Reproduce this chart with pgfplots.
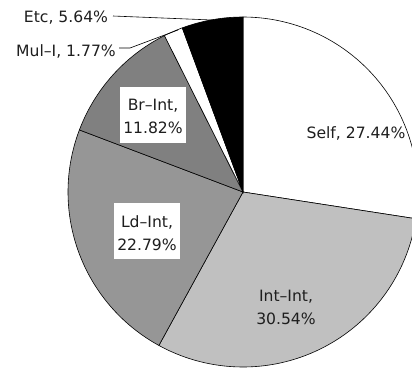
\documentclass[border=0pt]{standalone}
\usepackage{pgfplots}
\pgfplotsset{compat=1.18}
\usepackage{pgfplotstable}
\usepackage{fontspec}
\setmainfont{DejaVu Sans}
\definecolor{gIntInt}{RGB}{192,192,192}
\definecolor{gLd}{RGB}{150,150,150}
\definecolor{gBr}{RGB}{128,128,128}
\definecolor{txt}{RGB}{30,30,30}

\pgfplotstableread{
name value
Self 27.44
IntInt 30.54
LdInt 22.79
BrInt 11.82
MulI 1.77
Etc 5.64
}\piedata

\newcommand\lbl{\fontsize{15.6bp}{23bp}\selectfont}

\begin{document}
\begin{tikzpicture}
\pgfplotstablegetelem{0}{value}\of\piedata\pgfmathsetmacro\vA{\pgfplotsretval}
\pgfplotstablegetelem{1}{value}\of\piedata\pgfmathsetmacro\vB{\pgfplotsretval}
\pgfplotstablegetelem{2}{value}\of\piedata\pgfmathsetmacro\vC{\pgfplotsretval}
\pgfplotstablegetelem{3}{value}\of\piedata\pgfmathsetmacro\vD{\pgfplotsretval}
\pgfplotstablegetelem{4}{value}\of\piedata\pgfmathsetmacro\vE{\pgfplotsretval}
\pgfplotstablegetelem{5}{value}\of\piedata\pgfmathsetmacro\vF{\pgfplotsretval}
\pgfmathsetmacro\tA{90}
\pgfmathsetmacro\tB{\tA-3.6*\vA}
\pgfmathsetmacro\tC{\tB-3.6*\vB}
\pgfmathsetmacro\tD{\tC-3.6*\vC}
\pgfmathsetmacro\tE{\tD-3.6*\vD}
\pgfmathsetmacro\tF{\tE-3.6*\vE}
\pgfmathsetmacro\tG{\tF-3.6*\vF}
\begin{axis}[scale only axis, width=412bp, height=370bp,
  xmin=0, xmax=412, ymin=0, ymax=370, y dir=reverse,
  hide axis, clip=true]
\pgfplotsset{every axis plot/.append style={draw=black, line width=0.6pt, samples=90, variable=\t}}
\addplot[fill=white, domain=\tB:\tA] ({243+175*cos(\t)},{192-175*sin(\t)}) -- (axis cs:243,192) -- cycle;
\addplot[fill=gIntInt, domain=\tC:\tB] ({243+175*cos(\t)},{192-175*sin(\t)}) -- (axis cs:243,192) -- cycle;
\addplot[fill=gLd, domain=\tD:\tC] ({243+175*cos(\t)},{192-175*sin(\t)}) -- (axis cs:243,192) -- cycle;
\addplot[fill=gBr, domain=\tE:\tD] ({243+175*cos(\t)},{192-175*sin(\t)}) -- (axis cs:243,192) -- cycle;
\addplot[fill=white, domain=\tF:\tE] ({243+175*cos(\t)},{192-175*sin(\t)}) -- (axis cs:243,192) -- cycle;
\addplot[fill=black, domain=\tG:\tF] ({243+175*cos(\t)},{192-175*sin(\t)}) -- (axis cs:243,192) -- cycle;

\fill[white] (axis cs:114,203) rectangle (axis cs:180,259);
\fill[white] (axis cs:120,87) rectangle (axis cs:186,143);
\node[font=\lbl, text=txt, align=center, inner sep=0pt] at (axis cs:147,233) {Ld–Int,\\22.79\%};
\node[font=\lbl, text=txt, align=center, inner sep=0pt] at (axis cs:153,116) {Br–Int,\\11.82\%};
\node[font=\lbl, text=txt, align=center, inner sep=0pt] at (axis cs:286,307) {Int–Int,\\30.54\%};
\node[font=\lbl, text=txt, inner sep=0pt] at (axis cs:356,133) {Self, 27.44\%};
\node[font=\lbl, text=txt, inner sep=0pt] at (axis cs:66,51) {Mul–I, 1.77\%};
\node[font=\lbl, text=txt, inner sep=0pt] at (axis cs:66,18) {Etc, 5.64\%};
\draw[line width=0.6pt] (axis cs:113,16) -- (axis cs:212,20);
\draw[line width=0.6pt] (axis cs:119,48) -- (axis cs:130,48) -- (axis cs:178,30);
\end{axis}
\pgfresetboundingbox
\path (0,0) rectangle (412bp,370bp);
\end{tikzpicture}
\end{document}
